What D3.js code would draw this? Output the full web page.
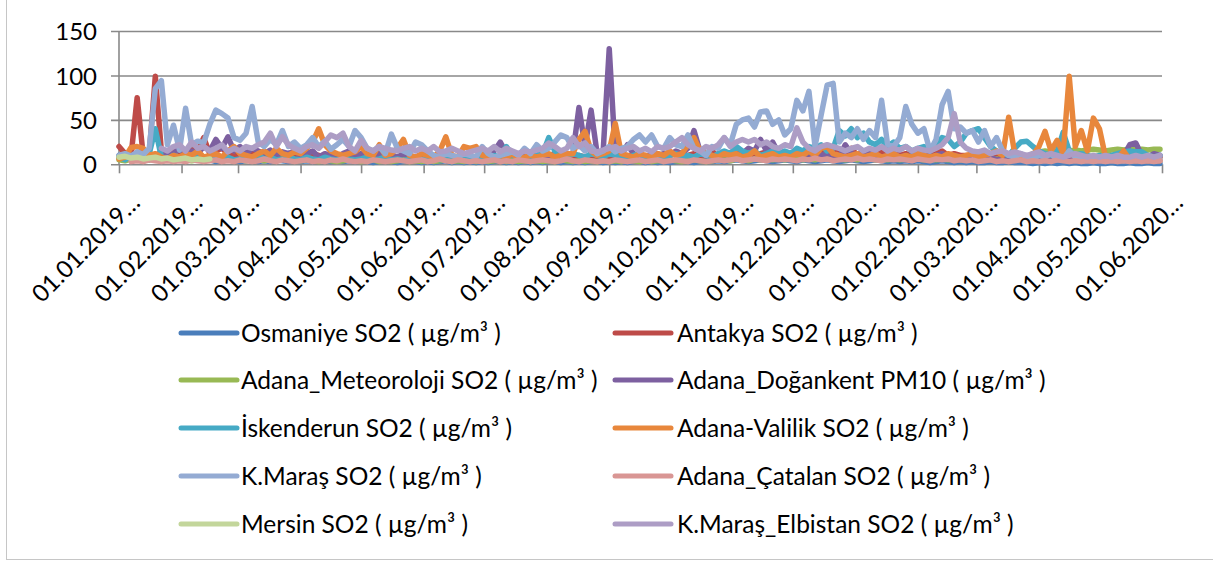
<!DOCTYPE html>
<html>
<head>
<meta charset="utf-8">
<script src="https://cdn.jsdelivr.net/npm/d3@7"></script>
<style>
  body { margin: 0; background: #ffffff; }
  svg text { font-family: "Lato", "Liberation Sans", Arial, sans-serif; fill: #000; }
</style>
</head>
<body>
<svg id="chart" width="1213" height="561"></svg>
<script>
// Daily station readings, sampled every third day from 01.01.2019 to 01.06.2020
const startDate = new Date(2019, 0, 1);
const endDate = new Date(2020, 5, 1);
const sampleStepDays = 3;

const yTicks = [0, 50, 100, 150];
const xTickLabels = [
  "01.01.2019…", "01.02.2019…", "01.03.2019…", "01.04.2019…", "01.05.2019…", "01.06.2019…",
  "01.07.2019…", "01.08.2019…", "01.09.2019…", "01.10.2019…", "01.11.2019…", "01.12.2019…",
  "01.01.2020…", "01.02.2020…", "01.03.2020…", "01.04.2020…", "01.05.2020…", "01.06.2020…"
];

const seriesNames = [
  "Osmaniye SO2 ( µg/m³ )",
  "Antakya SO2 ( µg/m³ )",
  "Adana_Meteoroloji SO2 ( µg/m³ )",
  "Adana_Doğankent PM10 ( µg/m³ )",
  "İskenderun SO2 ( µg/m³ )",
  "Adana-Valilik SO2 ( µg/m³ )",
  "K.Maraş SO2 ( µg/m³ )",
  "Adana_Çatalan SO2 ( µg/m³ )",
  "Mersin SO2 ( µg/m³ )",
  "K.Maraş_Elbistan SO2 ( µg/m³ )"
];

const osmaniye = [
  10, 8, 12, 6, 8, 5, 10, 6, 8, 5,
  6, 4, 5, 6, 4, 5, 3, 4, 5, 4,
  3, 4, 5, 3, 4, 3, 5, 4, 3, 4,
  3, 4, 3, 5, 4, 3, 4, 3, 4, 3,
  4, 3, 2, 3, 4, 3, 2, 3, 4, 3,
  2, 3, 2, 3, 4, 2, 3, 2, 3, 2,
  3, 2, 3, 4, 2, 3, 2, 3, 2, 3,
  2, 3, 4, 2, 3, 2, 3, 2, 3, 4,
  2, 3, 2, 3, 2, 3, 4, 2, 3, 2,
  3, 2, 3, 4, 3, 2, 3, 4, 3, 4,
  3, 4, 5, 4, 3, 4, 5, 4, 3, 4,
  5, 4, 3, 5, 4, 3, 4, 5, 4, 3,
  4, 5, 4, 3, 4, 5, 4, 3, 4, 3,
  4, 3, 4, 3, 2, 3, 4, 3, 2, 3,
  2, 3, 2, 2, 3, 2, 2, 3, 2, 2,
  2, 1, 2, 1, 2, 1, 2, 1, 2, 1,
  1, 2, 1, 1, 2, 1, 1, 2, 1, 1,
  2, 1, 1
];

const antakya = [
  20, 12, 10, 75, 10, 12, 99, 15, 12, 18,
  14, 12, 20, 15, 30, 12, 15, 18, 12, 10,
  12, 10, 14, 8, 10, 12, 8, 10, 12, 8,
  10, 8, 12, 10, 8, 10, 8, 6, 10, 8,
  6, 8, 10, 6, 8, 6, 8, 10, 6, 8,
  6, 8, 5, 6, 8, 6, 5, 8, 6, 5,
  6, 8, 5, 6, 8, 6, 8, 5, 6, 8,
  6, 8, 10, 6, 8, 6, 10, 8, 6, 8,
  10, 8, 6, 8, 10, 8, 6, 10, 8, 12,
  8, 10, 12, 8, 10, 12, 8, 10, 15, 8,
  10, 12, 8, 12, 15, 10, 12, 14, 10, 12,
  14, 10, 12, 15, 10, 12, 18, 10, 12, 15,
  12, 18, 10, 15, 12, 10, 15, 12, 18, 10,
  12, 10, 15, 12, 10, 12, 15, 10, 12, 10,
  10, 8, 12, 10, 8, 10, 8, 12, 10, 8,
  8, 10, 8, 6, 8, 10, 8, 6, 8, 6,
  8, 6, 8, 10, 8, 6, 8, 10, 8, 6,
  8, 6, 8
];

const adanaMeteoroloji = [
  5, 4, 6, 5, 4, 5, 6, 4, 5, 4,
  5, 6, 4, 5, 4, 6, 5, 4, 5, 4,
  5, 4, 6, 5, 4, 5, 4, 6, 5, 4,
  4, 5, 4, 3, 5, 4, 3, 4, 5, 4,
  3, 4, 5, 3, 4, 3, 4, 5, 3, 4,
  3, 4, 3, 4, 5, 3, 4, 3, 4, 3,
  4, 3, 4, 5, 3, 4, 3, 4, 3, 4,
  3, 4, 3, 5, 4, 3, 4, 3, 4, 3,
  4, 3, 4, 3, 5, 4, 3, 4, 3, 4,
  4, 5, 4, 3, 4, 5, 4, 3, 4, 5,
  5, 4, 6, 5, 4, 6, 5, 7, 5, 6,
  5, 6, 7, 5, 6, 5, 7, 6, 5, 6,
  5, 6, 5, 7, 6, 5, 6, 5, 6, 5,
  6, 5, 6, 5, 6, 5, 6, 5, 6, 5,
  5, 6, 5, 6, 5, 6, 5, 6, 5, 6,
  8, 12, 14, 15, 14, 15, 16, 15, 16, 15,
  16, 17, 16, 15, 16, 17, 16, 17, 16, 17,
  16, 17, 17
];

const adanaDogankent = [
  8, 6, 10, 8, 12, 10, 8, 15, 10, 12,
  18, 10, 15, 12, 20, 15, 28, 18, 31, 15,
  20, 12, 18, 15, 12, 16, 10, 14, 12, 15,
  10, 12, 15, 8, 12, 10, 8, 12, 15, 10,
  12, 8, 10, 12, 8, 10, 8, 12, 10, 8,
  10, 8, 6, 8, 10, 6, 8, 10, 6, 8,
  10, 12, 15, 25, 12, 10, 12, 8, 10, 12,
  8, 10, 12, 8, 10, 12, 64, 20, 61, 12,
  15, 130, 12, 10, 22, 12, 10, 8, 12, 10,
  12, 10, 15, 12, 18, 38, 15, 12, 10, 8,
  12, 10, 15, 12, 18, 15, 28, 15, 25, 12,
  10, 12, 15, 10, 12, 8, 10, 12, 10, 8,
  22, 12, 10, 8, 12, 10, 8, 10, 12, 8,
  10, 8, 12, 10, 8, 10, 12, 8, 10, 8,
  6, 8, 5, 6, 8, 5, 6, 4, 5, 6,
  5, 4, 6, 5, 4, 6, 5, 4, 5, 6,
  5, 6, 4, 5, 8, 10, 10, 22, 24, 10,
  8, 12, 10
];

const iskenderun = [
  8, 5, 10, 8, 6, 12, 40, 8, 6, 10,
  8, 6, 10, 8, 5, 8, 10, 6, 8, 5,
  6, 8, 5, 10, 6, 8, 5, 6, 8, 6,
  5, 8, 6, 5, 8, 6, 5, 8, 6, 5,
  6, 8, 5, 6, 8, 5, 6, 4, 6, 8,
  5, 6, 8, 5, 6, 8, 5, 6, 10, 6,
  8, 6, 10, 8, 20, 10, 8, 6, 8, 10,
  12, 30, 15, 10, 8, 12, 10, 8, 12, 10,
  8, 12, 10, 8, 6, 10, 12, 8, 6, 10,
  8, 10, 12, 8, 10, 8, 12, 10, 8, 12,
  15, 12, 20, 15, 12, 15, 10, 12, 15, 12,
  15, 12, 18, 15, 20, 18, 22, 15, 18, 38,
  32, 40, 30, 35, 25, 22, 28, 20, 25, 18,
  20, 15, 18, 20, 15, 22, 30, 28, 20, 25,
  35, 38, 40, 30, 20, 15, 12, 10, 18, 25,
  26, 20, 15, 12, 10, 14, 36, 15, 10, 12,
  10, 8, 10, 8, 10, 12, 14, 15, 14, 14,
  10, 8, 10
];

const adanaValilik = [
  6, 8, 19, 20, 18, 10, 12, 8, 6, 10,
  8, 12, 10, 15, 8, 10, 12, 8, 15, 20,
  12, 10, 8, 12, 15, 10, 18, 12, 10, 14,
  12, 18, 25, 40, 22, 15, 12, 10, 12, 14,
  20, 12, 10, 22, 10, 12, 18, 28, 10, 8,
  12, 10, 8, 15, 31, 10, 8, 20, 18, 20,
  10, 8, 6, 10, 8, 12, 6, 8, 10, 8,
  10, 12, 8, 10, 12, 12, 28, 37, 15, 10,
  12, 15, 46, 12, 10, 8, 12, 10, 8, 12,
  10, 15, 10, 12, 22, 30, 15, 12, 10, 8,
  12, 10, 12, 8, 10, 15, 8, 10, 12, 8,
  10, 8, 12, 10, 15, 10, 18, 20, 12, 10,
  8, 10, 12, 8, 10, 12, 8, 10, 12, 8,
  10, 8, 12, 10, 8, 10, 8, 12, 10, 8,
  10, 12, 8, 10, 12, 15, 10, 53, 12, 10,
  8, 10, 20, 37, 15, 27, 12, 99, 20, 38,
  15, 52, 40, 8, 5, 6, 15, 5, 4, 5,
  4, 5, 4
];

const kMaras = [
  10, 12, 9, 14, 11, 18, 85, 94, 22, 44,
  16, 63, 22, 26, 24, 45, 61, 57, 52, 30,
  27, 35, 65, 25, 20, 28, 22, 38, 20, 25,
  18, 22, 30, 20, 26, 17, 22, 28, 20, 38,
  30, 18, 15, 20, 12, 34, 18, 15, 12, 25,
  22, 15, 10, 8, 12, 10, 8, 12, 10, 8,
  20, 12, 8, 10, 12, 14, 10, 18, 12, 22,
  15, 18, 25, 33, 30, 18, 22, 15, 20, 12,
  15, 20, 14, 18, 20, 28, 33, 25, 33, 20,
  18, 30, 22, 20, 33, 18, 15, 10, 20, 18,
  30, 22, 45, 50, 52, 42, 59, 60, 45, 50,
  33, 40, 72, 60, 82, 20, 55, 89, 91, 25,
  35, 30, 40, 28, 38, 30, 72, 22, 20, 30,
  65, 45, 35, 40, 15, 28, 67, 82, 40, 42,
  35, 38, 25, 38, 20, 30, 15, 10, 8, 12,
  8, 6, 10, 8, 12, 5, 6, 15, 8, 6,
  5, 6, 8, 5, 6, 5, 4, 6, 5, 4,
  5, 4, 5
];

const adanaCatalan = [
  null, null, 3, 4, 3, 5, 4, 3, 4, 3,
  4, 3, 5, 4, 3, 4, 5, 3, 4, 3,
  5, 4, 3, 4, 6, 4, 3, 5, 4, 3,
  4, 5, 3, 4, 3, 5, 4, 6, 4, 3,
  4, 3, 5, 4, 3, 4, 5, 4, 3, 4,
  5, 3, 4, 6, 4, 3, 5, 4, 3, 4,
  3, 4, 5, 3, 4, 3, 5, 4, 3, 4,
  5, 4, 3, 4, 6, 4, 3, 5, 4, 3,
  4, 3, 5, 4, 3, 4, 5, 3, 4, 5,
  3, 4, 5, 4, 3, 5, 4, 3, 4, 5,
  4, 5, 6, 4, 5, 6, 5, 4, 6, 5,
  6, 5, 4, 6, 5, 7, 5, 6, 4, 5,
  6, 5, 7, 5, 6, 5, 4, 6, 5, 6,
  5, 4, 6, 5, 4, 6, 5, 6, 4, 5,
  4, 5, 3, 4, 5, 3, 4, 3, 4, 5,
  3, 4, 3, 4, 3, 5, 4, 3, 4, 3,
  4, 3, 4, 3, 4, 3, 4, 3, 4, 3,
  4, 3, 4
];

const mersin = [
  8, 9, 7, 8, 6, 7, 8, 6, 7, 5,
  6, 7, 5, 6, 5, 6
];

const kMarasElbistan = [
  null, null, null, null, null, null, null, 18, 15, 20,
  22, 15, 25, 18, 20, 15, 18, 22, 14, 18,
  15, 20, 18, 22, 25, 35, 20, 31, 22, 18,
  15, 20, 22, 18, 25, 33, 30, 35, 20, 15,
  27, 18, 15, 20, 18, 16, 15, 18, 20, 15,
  18, 15, 20, 14, 15, 18, 15, 12, 14, 16,
  18, 15, 20, 14, 18, 15, 12, 15, 14, 16,
  18, 24, 20, 15, 18, 30, 20, 24, 15, 14,
  16, 18, 20, 15, 18, 20, 15, 18, 14, 20,
  18, 20, 25, 30, 22, 18, 15, 20, 18, 22,
  30, 20, 25, 28, 25, 28, 22, 25, 20, 18,
  22, 20, 41, 25, 18, 15, 20, 22, 20, 18,
  15, 18, 20, 15, 18, 16, 20, 15, 18, 16,
  20, 15, 18, 16, 15, 18, 22, 30, 57, 25,
  18, 15, 14, 16, 12, 14, 15, 12, 14, 12,
  10, 12, 14, 10, 12, 10, 8, 10, 12, 10,
  8, 10, 8, 10, 8, 10, 8, 8, 10, 8,
  10, 8, 10
];

const seriesValues = [
  osmaniye, antakya, adanaMeteoroloji, adanaDogankent, iskenderun,
  adanaValilik, kMaras, adanaCatalan, mersin, kMarasElbistan
];

const seriesColors = [
  "#4A7EBB", "#BE4B48", "#98B954", "#7D60A0", "#46AAC5",
  "#E8873C", "#94ABD3", "#D99694", "#C3D69B", "#AD9DC5"
];

// ---- layout ----
const plot = { left: 119, right: 1162, top: 31, bottom: 164.3 };

const svg = d3.select("#chart");

// outer chart frame
svg.append("line").attr("x1", 6.5).attr("x2", 6.5).attr("y1", 0).attr("y2", 560)
  .attr("stroke", "#c6c6c6").attr("stroke-width", 1);
svg.append("line").attr("x1", 6).attr("x2", 1213).attr("y1", 559.5).attr("y2", 559.5)
  .attr("stroke", "#c6c6c6").attr("stroke-width", 1);

const x = d3.scaleTime().domain([startDate, endDate]).range([plot.left, plot.right]);
const y = d3.scaleLinear().domain([0, 150]).range([plot.bottom, plot.top]);

// horizontal gridlines + value axis
const yAxis = d3.axisLeft(y).tickValues(yTicks).tickSizeInner(-(plot.right - plot.left + 8)).tickSizeOuter(0).tickPadding(0);
const yg = svg.append("g").attr("transform", `translate(${plot.left - 8},0)`).call(yAxis);
yg.select(".domain").remove();
yg.selectAll(".tick line").attr("stroke", "#898989").attr("stroke-width", 1.6);
yg.selectAll(".tick text")
  .attr("x", -14)
  .attr("dy", "0.36em")
  .style("font-size", "24px");

// vertical axis line
svg.append("line")
  .attr("x1", plot.left).attr("x2", plot.left)
  .attr("y1", plot.top).attr("y2", plot.bottom)
  .attr("stroke", "#898989").attr("stroke-width", 1.6);

// category (date) axis with rotated labels
const monthDates = d3.timeMonth.range(startDate, d3.timeDay.offset(endDate, 1));
const xAxis = d3.axisBottom(x).tickValues(monthDates).tickSizeInner(9).tickSizeOuter(0)
  .tickFormat((d, i) => xTickLabels[i]);
const xg = svg.append("g").attr("transform", `translate(0,${plot.bottom})`).call(xAxis);
xg.select(".domain").remove();
xg.selectAll(".tick line").attr("stroke", "#898989").attr("stroke-width", 1.6);
xg.selectAll(".tick text")
  .attr("x", 0).attr("y", 0).attr("dy", "0.35em")
  .attr("text-anchor", "end")
  .attr("transform", "translate(16,34) rotate(-45)")
  .style("font-size", "24px");

// series lines
const line = d3.line()
  .defined(d => d.v != null)
  .x(d => x(d.date))
  .y(d => y(d.v))
  .curve(d3.curveLinear);

const lineGroup = svg.append("g");
seriesValues.forEach((vals, s) => {
  const pts = vals.map((v, i) => ({ date: d3.timeDay.offset(startDate, i * sampleStepDays), v }));
  lineGroup.append("path")
    .datum(pts)
    .attr("fill", "none")
    .attr("stroke", seriesColors[s])
    .attr("stroke-width", 5.5)
    .attr("stroke-linejoin", "round")
    .attr("stroke-linecap", "round")
    .attr("d", line);
});

// legend: two columns, five rows
const legendRows = [333, 380, 428, 476, 524];
const legendCols = [{ x1: 181, x2: 237, tx: 241 }, { x1: 615, x2: 671, tx: 677 }];
const legend = svg.append("g");
seriesNames.forEach((name, s) => {
  const col = legendCols[s % 2];
  const ry = legendRows[Math.floor(s / 2)];
  legend.append("line")
    .attr("x1", col.x1).attr("x2", col.x2).attr("y1", ry).attr("y2", ry)
    .attr("stroke", seriesColors[s]).attr("stroke-width", 5)
    .attr("stroke-linecap", "round");
  legend.append("text")
    .attr("x", col.tx).attr("y", ry).attr("dy", "0.35em")
    .style("font-size", "24.5px")
    .text(name);
});
</script>
</body>
</html>
